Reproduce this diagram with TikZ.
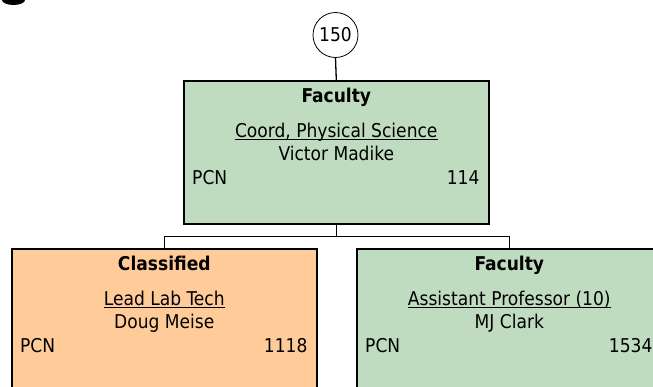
\documentclass[tikz,border=0pt]{standalone}
\usepackage{fontspec}
\setmainfont{DejaVu Sans Condensed}
\usetikzlibrary{calc}
\definecolor{facgreen}{HTML}{C0DCC0}
\definecolor{clsorange}{HTML}{FFCC99}
\newcommand{\txtsize}{\fontsize{19}{22}\selectfont}
\begin{document}
\begin{tikzpicture}[x=1pt,y=-1pt,
  posbox/.style={draw=black, line width=1.6pt, minimum width=305pt, minimum height=143pt, inner sep=0pt, anchor=north west},
  txt/.style={inner sep=0pt, font=\txtsize},
  link/.style={draw=black, line width=1.3pt},
  uline/.style={line width=1pt}]
\useasboundingbox (0,0) rectangle (653,386);
\clip (0,0) rectangle (653,386);
% cut-off glyph at top-left
\fill[black] (13.5,0) ellipse [x radius=11.5pt, y radius=5pt];
% number circle
\node[circle, draw=black, line width=0.8pt, fill=white, minimum size=45pt, inner sep=0pt, font=\txtsize] (c150) at (335.5,35) {150};
% boxes
\node[posbox, fill=facgreen] (top) at (183,80) {};
\node[posbox, fill=clsorange] (left) at (11,248) {};
\node[posbox, fill=facgreen] (right) at (356,248) {};
% connectors
\draw[link] (c150.south) -- (top.north);
\draw[link] (top.south) -- ++(0,12) -| (left.north);
\draw[link] (top.south) -- ++(0,12) -| (right.north);
% top box text
\node[txt, anchor=base, font=\txtsize\bfseries] (ttop) at ($(top.north)+(0,22.5)$) {Faculty};
\node[txt, anchor=base] (ptop) at ($(top.north)+(0,57)$) {Coord, Physical Science};
\node[txt, anchor=base] (ntop) at ($(top.north)+(0,80.5)$) {Victor Madike};
\node[txt, anchor=base west] (ktop) at ($(top.north west)+(9,104.5)$) {PCN};
\node[txt, anchor=base east] (vtop) at ($(top.north east)+(-10,104.5)$) {114};
\draw[uline] ($(ptop.base west)+(0,2)$) -- ($(ptop.base east)+(0,2)$);
% left box text
\node[txt, anchor=base, font=\txtsize\bfseries] (tleft) at ($(left.north)+(0,22.5)$) {Classified};
\node[txt, anchor=base] (pleft) at ($(left.north)+(0,57)$) {Lead Lab Tech};
\node[txt, anchor=base] (nleft) at ($(left.north)+(0,80.5)$) {Doug Meise};
\node[txt, anchor=base west] (kleft) at ($(left.north west)+(9,104.5)$) {PCN};
\node[txt, anchor=base east] (vleft) at ($(left.north east)+(-10,104.5)$) {1118};
\draw[uline] ($(pleft.base west)+(0,2)$) -- ($(pleft.base east)+(0,2)$);
% right box text
\node[txt, anchor=base, font=\txtsize\bfseries] (tright) at ($(right.north)+(0,22.5)$) {Faculty};
\node[txt, anchor=base] (pright) at ($(right.north)+(0,57)$) {Assistant Professor (10)};
\node[txt, anchor=base] (nright) at ($(right.north)+(0,80.5)$) {MJ Clark};
\node[txt, anchor=base west] (kright) at ($(right.north west)+(9,104.5)$) {PCN};
\node[txt, anchor=base east] (vright) at ($(right.north east)+(-10,104.5)$) {1534};
\draw[uline] ($(pright.base west)+(0,2)$) -- ($(pright.base east)+(0,2)$);
\end{tikzpicture}
\end{document}
